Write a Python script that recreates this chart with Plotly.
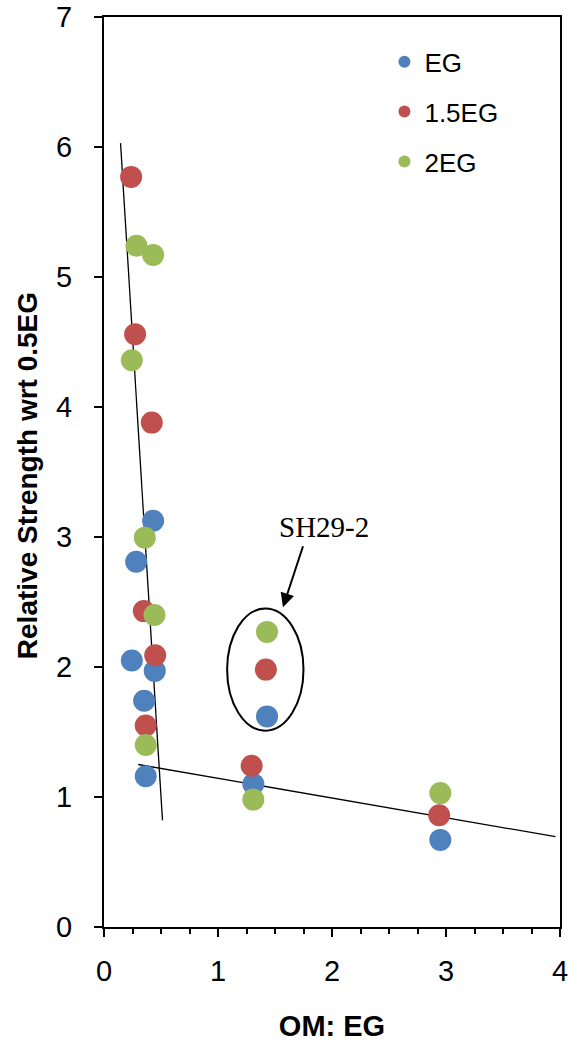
import plotly.graph_objects as go

# ---- data ----
eg_x = [0.431, 0.282, 0.244, 0.445, 0.352, 0.366, 1.43, 1.31, 2.95]
eg_y = [3.125, 2.81, 2.05, 1.97, 1.74, 1.16, 1.62, 1.10, 0.67]

eg15_x = [0.238, 0.273, 0.419, 0.349, 0.449, 0.366, 1.42, 1.295, 2.94]
eg15_y = [5.77, 4.56, 3.88, 2.43, 2.09, 1.55, 1.98, 1.24, 0.86]

eg2_x = [0.285, 0.431, 0.244, 0.358, 0.443, 0.366, 1.43, 1.31, 2.95]
eg2_y = [5.24, 5.17, 4.36, 2.995, 2.40, 1.40, 2.27, 0.98, 1.03]

steep_x = [0.145, 0.513]
steep_y = [6.03, 0.82]
shallow_x = [0.30, 3.96]
shallow_y = [1.25, 0.695]

series_names = ["EG", "1.5EG", "2EG"]
series_colors = ["#4F81BD", "#C0504D", "#9BBB59"]

x_ticks = [0, 1, 2, 3, 4]
y_ticks = [0, 1, 2, 3, 4, 5, 6, 7]

x_title = "OM: EG"
y_title = "Relative Strength wrt 0.5EG"

FONT = "Liberation Sans, Arial, sans-serif"

fig = go.Figure()

# trend lines
fig.add_trace(go.Scatter(x=steep_x, y=steep_y, mode="lines",
                         line=dict(color="black", width=1.3), showlegend=False, hoverinfo="skip"))
fig.add_trace(go.Scatter(x=shallow_x, y=shallow_y, mode="lines",
                         line=dict(color="black", width=1.3), showlegend=False, hoverinfo="skip"))

for name, color, xs, ys in zip(series_names, series_colors,
                               [eg_x, eg15_x, eg2_x], [eg_y, eg15_y, eg2_y]):
    fig.add_trace(go.Scatter(x=xs, y=ys, mode="markers", name=name, legendgroup=name,
                             marker=dict(color=color, size=22, line=dict(width=0))))

# ellipse around SH29-2
fig.add_shape(type="circle", xref="x", yref="y", x0=1.08, x1=1.75, y0=1.51, y1=2.45,
              line=dict(color="black", width=2))

# arrow
fig.add_annotation(x=1.57, y=2.46, ax=1.75, ay=2.94, xref="x", yref="y", axref="x", ayref="y",
                   text="", showarrow=True, arrowhead=2, arrowsize=1.4, arrowwidth=2, arrowcolor="black")
fig.add_annotation(x=1.93, y=3.08, xref="x", yref="y", text="SH29-2", showarrow=False,
                   font=dict(family="Liberation Serif, Times New Roman, serif", size=29, color="black"))

# y-axis title
fig.add_annotation(x=-0.1677, y=0.496, xref="paper", yref="paper", text="<b>" + y_title + "</b>",
                   textangle=-90, showarrow=False, xanchor="center", yanchor="middle",
                   font=dict(size=28, family=FONT, color="black"))

fig.update_layout(
    width=569, height=1042,
    margin=dict(l=103.5, r=9.3, t=17, b=115, autoexpand=False),
    paper_bgcolor="white", plot_bgcolor="white",
    font=dict(family=FONT, color="black"),
    legend=dict(x=0.615, y=0.9765, xanchor="left", yanchor="top", bgcolor="rgba(0,0,0,0)",
                font=dict(size=26, family=FONT, color="black"), tracegroupgap=13,
                itemsizing="constant", itemwidth=30),
    xaxis=dict(range=[0, 4], tickvals=x_ticks, showgrid=False, zeroline=False,
               showline=True, linecolor="black", linewidth=2, mirror=True,
               ticks="outside", ticklen=8, tickwidth=2, tickcolor="black",
               tickfont=dict(size=29, family=FONT), ticklabelstandoff=9,
               minor=dict(dtick=0.25, ticks="outside", ticklen=5, tickwidth=2, tickcolor="black"),
               title=dict(text="<b>" + x_title + "</b>", font=dict(size=29, family=FONT), standoff=36)),
    yaxis=dict(range=[0, 7], tickvals=y_ticks, showgrid=False, zeroline=False,
               showline=True, linecolor="black", linewidth=2, mirror=True,
               ticks="outside", ticklen=8, tickwidth=2, tickcolor="black",
               tickfont=dict(size=29, family=FONT), ticklabelstandoff=16),
)

fig.write_html("out.html", config={"displayModeBar": False},
               post_script="document.body.style.margin='0';")
